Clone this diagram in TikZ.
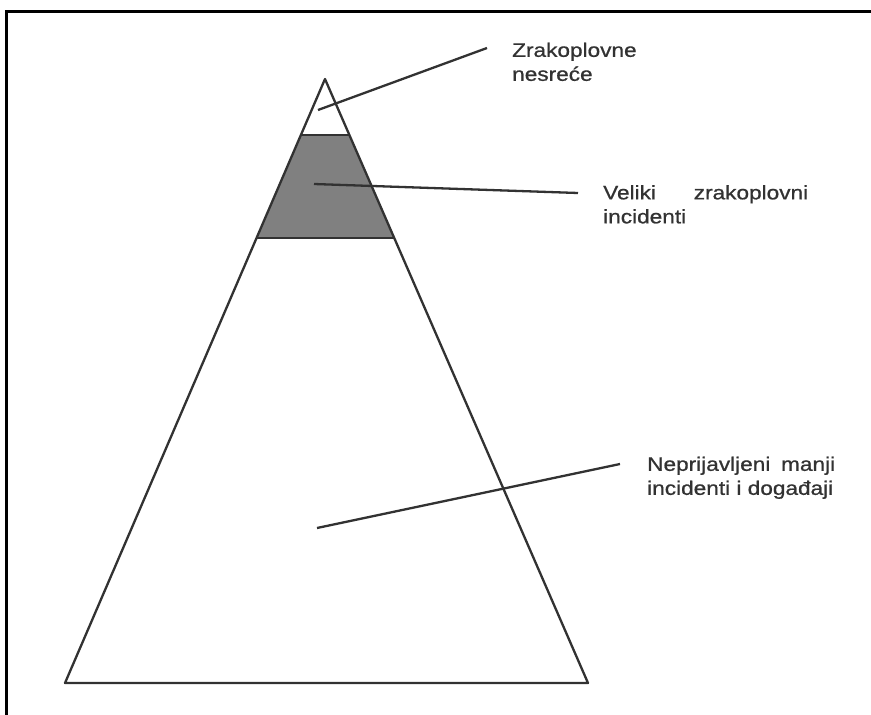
\documentclass[tikz,border=0pt]{standalone}
\usepackage{fontspec}
\setmainfont{Liberation Sans}
\newfontfamily\labfont[FakeStretch=1.16,FakeBold=0.8]{Liberation Sans}
\definecolor{inkc}{RGB}{50,50,50}
\definecolor{bandgray}{RGB}{128,128,128}
\begin{document}
\begin{tikzpicture}[x=1pt,y=-1pt,
  lbl/.style={font=\labfont\fontsize{19.5}{24}\selectfont, text=inkc, inner sep=0pt, align=left, anchor=north west},
  edge/.style={draw=inkc, line width=2.3pt},
  outline/.style={draw=inkc, line width=2.3pt, line join=round}]
\useasboundingbox (0,0) rectangle (871,715);
\fill[white] (0,0) rectangle (871,715);
% frame (only top and left edges visible)
\draw[line width=3pt, line join=miter] (6,715) -- (6,11) -- (871,11);
% pyramid
\coordinate (apex) at (325,79);
\coordinate (bl) at (65,683);
\coordinate (br) at (588,683);
\coordinate (t1l) at (300.9,135);
\coordinate (t1r) at (349.4,135);
\coordinate (t2l) at (256.6,238);
\coordinate (t2r) at (394.2,238);
\fill[bandgray] (t1l) -- (t1r) -- (t2r) -- (t2l) -- cycle;
\draw[outline] (apex) -- (br) -- (bl) -- cycle;
\draw[outline] (t1l) -- (t1r);
\draw[outline] (t2l) -- (t2r);
% labels
\node[lbl] (acc) at (512,42.5) {Zrakoplovne\\nesreće};
\node[lbl] (maj) at (603,185) {\makebox[205pt][s]{Veliki zrakoplovni}\\incidenti};
\node[lbl] (min) at (647,456.5) {\makebox[188pt][s]{Neprijavljeni manji}\\incidenti i događaji};
% connectors
\coordinate (p1) at (318,110);
\coordinate (p2) at (314,184);
\coordinate (p3) at (317,528);
\coordinate (e1) at (487,48);
\coordinate (e2) at (578,193);
\coordinate (e3) at (620,464);
\draw[edge] (p1) -- (e1);
\draw[edge] (p2) -- (e2);
\draw[edge] (p3) -- (e3);
\end{tikzpicture}
\end{document}
